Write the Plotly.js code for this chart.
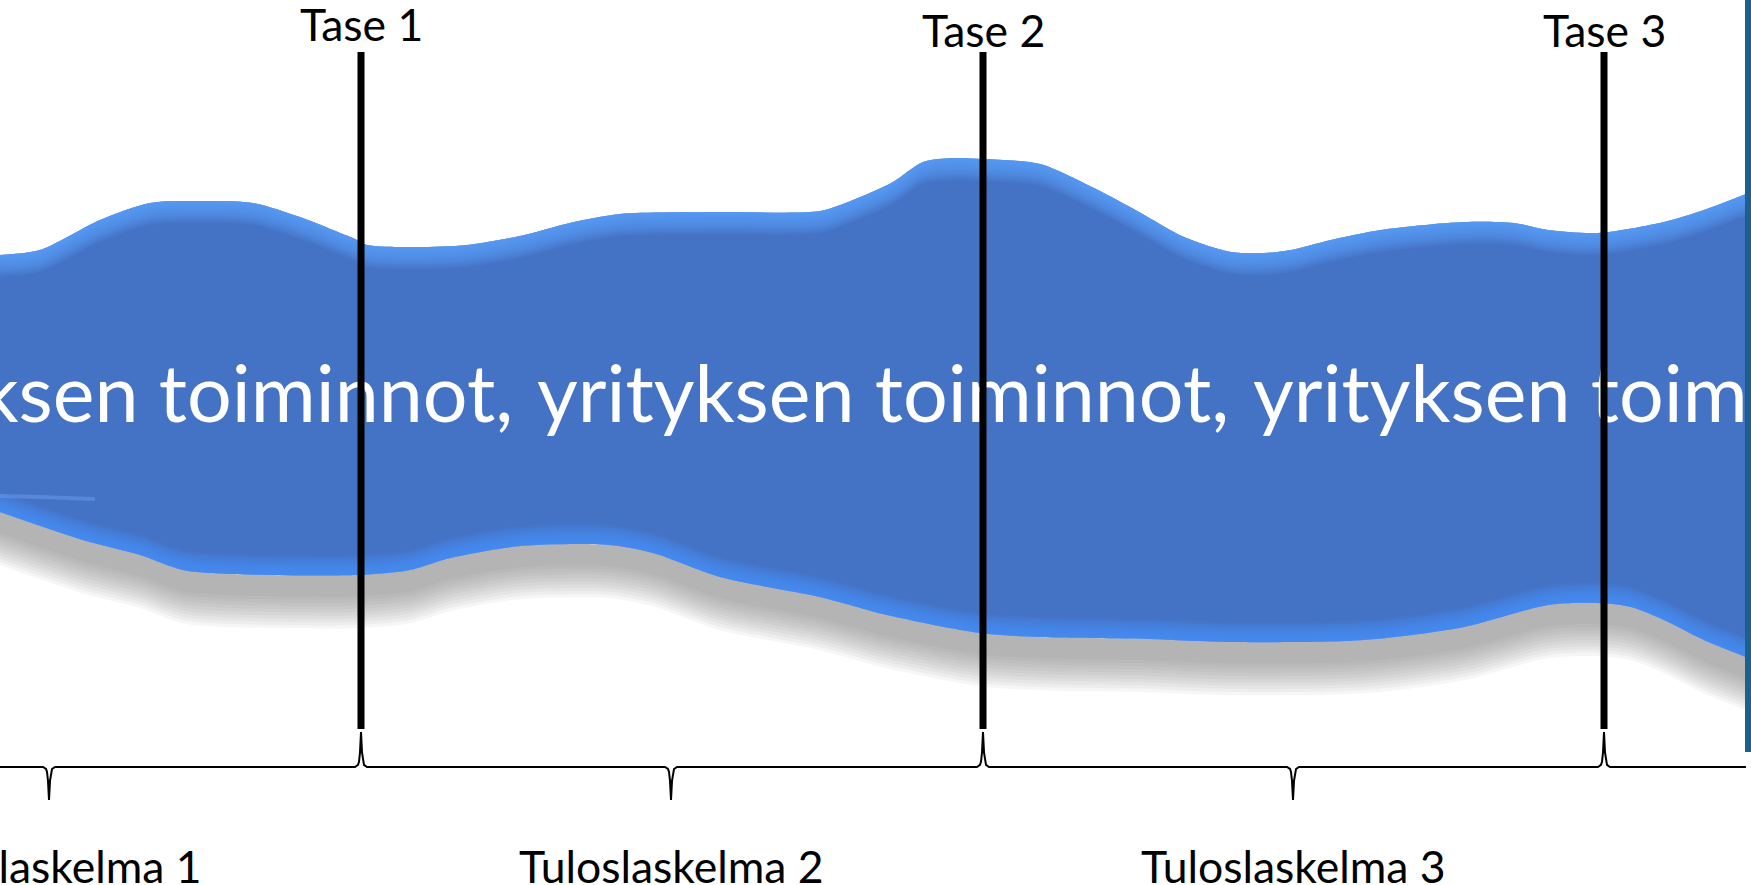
<!DOCTYPE html>
<html>
<head>
<meta charset="utf-8">
<script src="https://cdn.plot.ly/plotly-3.0.1.min.js"></script>
<style>html,body{margin:0;padding:0;background:#fff;}#chart{width:1751px;height:885px;}</style>
</head>
<body>
<div id="chart"></div>
<script>
// ---- data (x: horizontal position, y: vertical position from top) ----
const topX = [0, 40, 100, 150, 200, 253, 300, 333, 355, 367, 417, 467, 520, 570, 620, 720, 820, 853, 893, 923, 953, 983, 1040, 1094, 1139, 1184, 1231, 1264, 1291, 1331, 1381, 1464, 1514, 1548, 1598, 1664, 1704, 1751];
const topY = [255, 250, 220, 203, 201, 203, 217, 230, 239, 245, 247, 245, 236, 223, 214, 212, 211, 200, 182, 162, 158, 159, 164, 188, 212, 237, 252, 253, 250, 240, 230, 222, 223, 230, 233, 222, 210, 192];

const bottomX = [0, 83, 140, 183, 233, 357, 410, 450, 520, 610, 653, 720, 820, 887, 980, 1040, 1150, 1231, 1364, 1464, 1548, 1598, 1631, 1664, 1704, 1751];
const bottomY = [512, 540, 555, 570, 574, 575, 570, 558, 546, 545, 553, 577, 597, 615, 633, 637, 639, 642, 640, 627, 605, 603, 607, 620, 640, 659];

const tasePositions = [361, 983, 1604];
const taseLabels = ['Tase 1', 'Tase 2', 'Tase 3'];
const taseLabelY = [23, 29, 29];
const taseLineTop = 52;
const taseLineBottom = 729;

const periodCenters = [49, 671, 1293];
const periodLabels = ['Tuloslaskelma 1', 'Tuloslaskelma 2', 'Tuloslaskelma 3'];
const periodLabelY = 865;

const braceLevel = 767;
const braceStart = 0;
const braceEnd = 1746;

const phrase = 'yrityksen toiminnot,';
const phraseStarts = [-179, 537, 1253];
const phraseY = 402;

const streakX = [0, 40, 95];
const streakY = [496, 497, 499];

// ---- build traces ----
const traces = [];
function band(x, yA, yB, color) {
  traces.push({x: x, y: yA, mode: 'lines', line: {width: 0, shape: 'spline', smoothing: 0.8}, hoverinfo: 'skip', showlegend: false});
  traces.push({x: x, y: yB, mode: 'lines', fill: 'tonexty', fillcolor: color, line: {width: 0, shape: 'spline', smoothing: 0.8}, hoverinfo: 'skip', showlegend: false});
}
const shift = (arr, d) => arr.map(v => v + d);

// shadow under the band
for (let k = 1; k <= 11; k++) band(bottomX, bottomY, shift(bottomY, 18 + 3.2 * k), 'rgba(115,115,115,0.068)');
// main band
traces.push({x: bottomX, y: bottomY, mode: 'lines', line: {width: 0, shape: 'spline', smoothing: 0.8}, hoverinfo: 'skip', showlegend: false});
traces.push({x: topX, y: topY, mode: 'lines', fill: 'tonexty', fillcolor: '#4472C4', line: {width: 0, shape: 'spline', smoothing: 0.8}, hoverinfo: 'skip', showlegend: false});
// glow along the top edge
for (let k = 1; k <= 10; k++) band(topX, topY, shift(topY, 2.2 * k), 'rgba(92,162,255,0.14)');
// glow along the bottom edge
for (let k = 1; k <= 9; k++) band(bottomX, shift(bottomY, -2.2 * k), bottomY, 'rgba(72,150,255,0.15)');
// faint light streak at the left inside the band
traces.push({x: streakX, y: streakY, mode: 'lines', line: {color: 'rgba(120,175,255,0.35)', width: 4, shape: 'spline'}, hoverinfo: 'skip', showlegend: false});

// repeated white phrase across the band
traces.push({
  x: phraseStarts, y: phraseStarts.map(() => phraseY),
  mode: 'text', text: phraseStarts.map(() => phrase), textposition: 'middle right',
  textfont: {family: 'Lato, "Open Sans", sans-serif', size: 79, color: '#ffffff'},
  cliponaxis: true, hoverinfo: 'skip', showlegend: false
});

// Tase lines
tasePositions.forEach(p => {
  traces.push({x: [p, p], y: [taseLineTop, taseLineBottom], mode: 'lines',
    line: {color: '#000000', width: 7}, hoverinfo: 'skip', showlegend: false});
});

// brace path built from the tase positions (up cusps) and period centres (down cusps)
const cuspProfile = [[-6, 0], [-3, 0.06], [-2, 0.15], [-1, 0.42], [0, 1], [1, 0.42], [2, 0.15], [3, 0.06], [6, 0]];
const cusps = tasePositions.map(p => ({x: p, h: -35})).concat(periodCenters.map(c => ({x: c, h: 33})))
  .sort((a, b) => a.x - b.x);
const bx = [braceStart], by = [braceLevel];
cusps.forEach(c => {
  cuspProfile.forEach(([dx, f]) => {
    const xx = c.x + dx;
    if (xx >= braceStart && xx <= braceEnd) { bx.push(xx); by.push(braceLevel + f * c.h); }
  });
});
bx.push(braceEnd); by.push(braceLevel);
traces.push({x: bx, y: by, mode: 'lines', line: {color: '#000000', width: 2}, hoverinfo: 'skip', showlegend: false});

const labelFont = {family: 'Lato, "Open Sans", sans-serif', size: 44.5, color: '#000000'};
const annotations = [];
taseLabels.forEach((t, i) => annotations.push({x: tasePositions[i], y: taseLabelY[i], text: t, showarrow: false,
  xref: 'x', yref: 'y', xanchor: 'center', yanchor: 'middle', font: labelFont}));
periodLabels.forEach((t, i) => annotations.push({x: periodCenters[i], y: periodLabelY, text: t, showarrow: false,
  xref: 'x', yref: 'y', xanchor: 'center', yanchor: 'middle', font: labelFont}));

const layout = {
  width: 1751, height: 885,
  margin: {l: 0, r: 0, t: 0, b: 0, pad: 0},
  paper_bgcolor: '#ffffff', plot_bgcolor: '#ffffff',
  showlegend: false,
  xaxis: {range: [0, 1751], visible: false, fixedrange: true},
  yaxis: {range: [885, 0], visible: false, fixedrange: true},
  annotations: annotations,
  shapes: [{type: 'rect', xref: 'x', yref: 'y', x0: 1745, x1: 1751, y0: 0, y1: 752,
    fillcolor: '#1F5F8B', line: {width: 0}, layer: 'above'}]
};

Plotly.newPlot('chart', traces, layout, {staticPlot: true, displayModeBar: false});
</script>
</body>
</html>
